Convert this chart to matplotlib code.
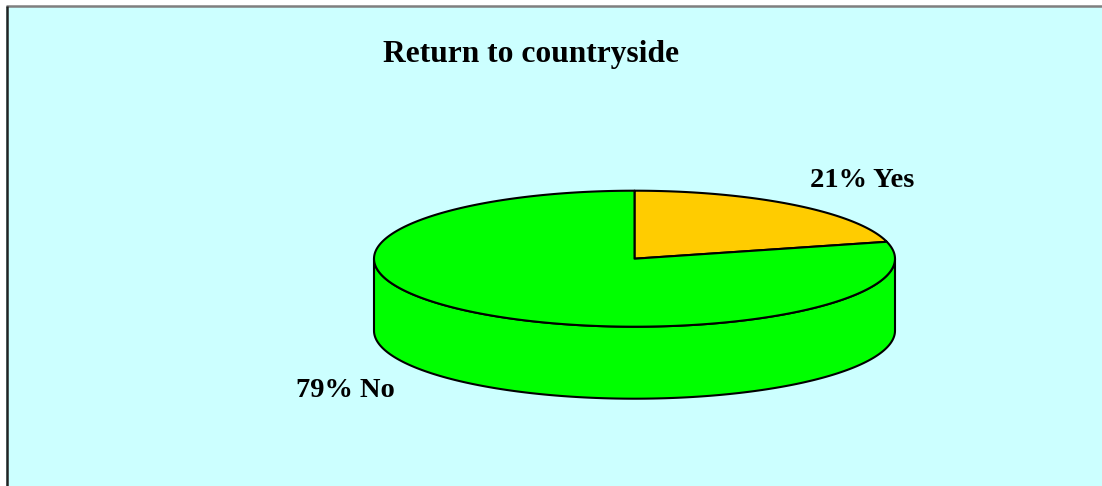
import numpy as np
import matplotlib.pyplot as plt
from matplotlib.patches import Polygon

# chart data
title = 'Return to countryside'
labels = ['Yes', 'No']
shares = [21, 79]
colors = ['#FFCC00', '#00FF00']

# pie layout (pixels)
cx, cy = 634.5, 258.7
rx, ry = 260.5, 68.0
depth = 72.0

fig = plt.figure(figsize=(11.02, 4.86), dpi=100)
fig.patch.set_facecolor('white')
ax = fig.add_axes([0, 0, 1, 1])
ax.set_xlim(0, 1102)
ax.set_ylim(486, 0)
ax.axis('off')

# chart area background + borders
ax.add_patch(plt.Rectangle((6, 6), 1102, 486, facecolor='#CCFFFF', edgecolor='none', zorder=0))
ax.plot([6, 1102], [6.5, 6.5], color='#7F7F7F', lw=1.8, zorder=1, solid_capstyle='butt')
ax.plot([6.5, 6.5], [6, 486], color='#222222', lw=1.8, zorder=1, solid_capstyle='butt')


def pt(theta, drop=0.0):
    t = np.radians(theta)
    return cx + rx * np.cos(t), cy - ry * np.sin(t) + drop


total = sum(shares)
start = 90.0
wedges = []
for lab, val, col in zip(labels, shares, colors):
    sweep = 360.0 * val / total
    wedges.append((lab, val, col, start - sweep, start))
    start -= sweep

# side walls (front half only, angles 180..360)
for lab, val, col, a0, a1 in wedges:
    for k in (-1, 0, 1):
        lo = max(a0 + 360 * k, 180)
        hi = min(a1 + 360 * k, 360)
        if hi <= lo:
            continue
        th = np.linspace(lo, hi, 200)
        top = [pt(t) for t in th]
        bot = [pt(t, depth) for t in th[::-1]]
        ax.add_patch(Polygon(top + bot, closed=True, facecolor=col,
                             edgecolor='black', lw=1.5, zorder=2))

# top faces
for lab, val, col, a0, a1 in wedges:
    th = np.linspace(a1, a0, 300)
    verts = [(cx, cy)] + [pt(t) for t in th]
    ax.add_patch(Polygon(verts, closed=True, facecolor=col,
                         edgecolor='black', lw=1.5, zorder=3, joinstyle='round'))

font = dict(family='Liberation Serif', weight='bold', color='black')
ax.text(531, 62, title, fontsize=22.7, ha='center', va='baseline', **font)
ax.text(862, 187, f'{shares[0]}% {labels[0]}', fontsize=20.5, ha='center', va='baseline', **font)
ax.text(345, 397, f'{shares[1]}% {labels[1]}', fontsize=20.5, ha='center', va='baseline', **font)

fig.savefig('out.png', dpi=100, facecolor=fig.get_facecolor())
